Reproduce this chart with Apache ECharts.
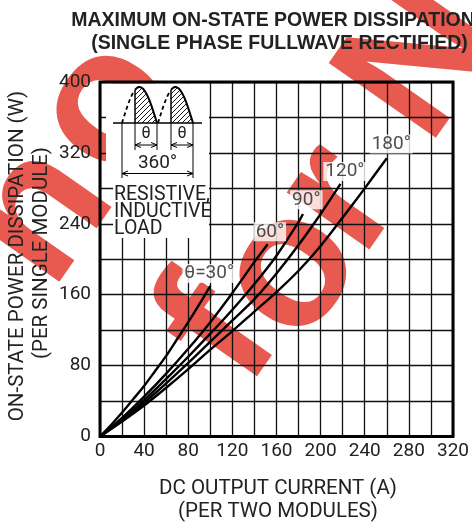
<!DOCTYPE html>
<html><head><meta charset="utf-8">
<script src="https://cdn.jsdelivr.net/npm/echarts@6/dist/echarts.min.js"></script>
<style>html,body{margin:0;padding:0;background:#fff}#c{width:472px;height:525px}</style>
</head><body><div id="c"></div>
<script>
// ---- data ----
const curveNames = ['θ=30°', '60°', '90°', '120°', '180°'];
const x30  = [0, 10, 20, 30, 40, 50, 60, 70, 80, 90, 100];
const y30  = [0, 13, 27, 42, 57, 74, 91, 110, 129, 149, 170];
const x60  = [0, 20, 40, 60, 80, 100, 120, 140, 152];
const y60  = [0, 21, 45, 71, 99, 129, 162, 197, 217];
const x90  = [0, 20, 40, 60, 80, 100, 120, 140, 160, 180, 184];
const y90  = [0, 19, 41, 65, 90, 116, 143, 172, 204, 242, 251];
const x120 = [0, 20, 40, 60, 80, 100, 120, 140, 160, 180, 200, 218];
const y120 = [0, 18, 38, 60, 83, 107, 131, 155, 184, 216, 251, 285];
const x180 = [0, 20, 40, 60, 80, 100, 120, 140, 160, 180, 200, 220, 240, 260];
const y180 = [0, 17, 35, 55, 76, 98, 119, 141, 163, 187, 215, 247, 280, 314];
const labelX = [99, 154, 187, 222, 264];
const labelY = [184, 231, 267, 299, 330];
const xTickLabels = [0, 40, 80, 120, 160, 200, 240, 280, 320];
const yTickLabels = [0, 80, 160, 240, 320, 400];

const xs = [x30, x60, x90, x120, x180];
const ys = [y30, y60, y90, y120, y180];

const chart = echarts.init(document.getElementById('c'), null, {renderer: 'canvas'});
const FONT = 'Roboto';
const TXT = '#222';

// hatch pattern
const pat = document.createElement('canvas');
pat.width = 5; pat.height = 5;
const pc = pat.getContext('2d');
pc.strokeStyle = '#000'; pc.lineWidth = 0.9;
pc.beginPath(); pc.moveTo(-1, 6); pc.lineTo(6, -1); pc.stroke();

function hump(x0, x1, a, b) {
  const p = [];
  for (let i = 0; i <= 24; i++) {
    const x = a + (b - a) * i / 24;
    p.push([x, 123 - 36 * Math.sin(Math.PI * (x - x0) / (x1 - x0))]);
  }
  return p;
}
function line(x1, y1, x2, y2, w) {
  return {type: 'line', z: 5, shape: {x1, y1, x2, y2}, style: {stroke: '#000', lineWidth: w || 1.2}};
}
function arrow(xa, xb, y) {
  return [
    line(xa, y, xb, y, 1),
    {type: 'polyline', z: 5, shape: {points: [[xa + 6, y - 2.5], [xa, y], [xa + 6, y + 2.5]]}, style: {stroke: '#000', lineWidth: 1, fill: null}},
    {type: 'polyline', z: 5, shape: {points: [[xb - 6, y - 2.5], [xb, y], [xb - 6, y + 2.5]]}, style: {stroke: '#000', lineWidth: 1, fill: null}}
  ];
}
function txt(text, x, y, size, opts) {
  return Object.assign({type: 'text', z: 6, x, y, style: {text, font: (size) + 'px ' + FONT, fill: TXT, textAlign: 'center', textVerticalAlign: 'middle'}}, opts || {});
}

const inset = [];
inset.push({type: 'rect', z: 1, shape: {x: 106, y: 83.5, width: 103, height: 97}, style: {fill: '#fff'}});
inset.push({type: 'rect', z: 1, shape: {x: 113, y: 180, width: 96, height: 58}, style: {fill: '#fff'}});
[[122, 157, 135], [158, 193, 171]].forEach(([a, b, f]) => {
  const solid = hump(a, b, f, b);
  inset.push({type: 'polygon', z: 4, shape: {points: [[f, 123]].concat(solid).concat([[b, 123]])}, style: {fill: {image: pat, repeat: 'repeat'}, stroke: null}});
  inset.push({type: 'polyline', z: 5, shape: {points: solid}, style: {stroke: '#000', lineWidth: 2, fill: null}});
  inset.push(line(f, 123, f, solid[0][1], 1.5));
  inset.push({type: 'polyline', z: 5, shape: {points: hump(a, b, a, f - 2)}, style: {stroke: '#000', lineWidth: 1.8, fill: null, lineDash: [4, 3]}});
});
inset.push(line(113, 123, 202, 123, 1.3));
inset.push(line(122, 123, 122, 178, 1));
inset.push(line(193, 123, 193, 178, 1));
[135, 157, 171].forEach(x => inset.push(line(x, 123, x, 150, 1)));
inset.push(...arrow(135, 157, 145), ...arrow(171, 193, 145), ...arrow(122, 193, 173.5));
inset.push(txt('θ', 146, 134, 16), txt('θ', 182, 134, 16), txt('360°', 157.5, 163.5, 19));
inset.push(txt('RESISTIVE,', 114, 195.5, 19.5), txt('INDUCTIVE', 114, 212.5, 19.5), txt('LOAD', 114, 229.5, 19.5));
inset.slice(-3).forEach(e => { e.style.textAlign = 'left'; });

// watermark letters (decoration behind the chart)
const WM = '#E85A4F';
const wmFont = 'bold 190px "Liberation Sans"';
const wmRot = 0.96;
const wmLetters = [
  ['n', 42, 215], ['o', 108, 108],
  ['f', 222, 335], ['o', 291, 272], ['r', 340, 200], ['N', 425, 62]
];
const watermark = wmLetters.map(([ch, x, y]) => ({
  type: 'text', z: -1, x, y, rotation: wmRot,
  style: {text: ch, font: wmFont, fill: WM, textAlign: 'center', textVerticalAlign: 'middle'}
}));

const titles = [
  {type: 'text', z: 6, x: 273, y: 21, style: {text: 'MAXIMUM ON-STATE POWER DISSIPATION', font: 'bold 19.5px "Liberation Sans"', fill: TXT, textAlign: 'center', textVerticalAlign: 'middle'}},
  {type: 'text', z: 6, x: 279.5, y: 44, style: {text: '(SINGLE PHASE FULLWAVE RECTIFIED)', font: 'bold 19.5px "Liberation Sans"', fill: TXT, textAlign: 'center', textVerticalAlign: 'middle'}},
  txt('DC OUTPUT CURRENT (A)', 278, 488.5, 20.5),
  txt('(PER TWO MODULES)', 278, 511.5, 20.5),
  txt('ON-STATE POWER DISSIPATION (W)', 18, 256, 20.5, {rotation: Math.PI / 2}),
  txt('(PER SINGLE MODULE)', 42, 253, 20.5, {rotation: Math.PI / 2})
];

const series = xs.map((xv, i) => ({
  type: 'line', name: curveNames[i], z: 3, smooth: 0.3, symbol: 'none',
  lineStyle: {color: '#000', width: 2.4},
  data: xv.map((x, j) => [x, ys[i][j]])
}));
series.push({
  type: 'scatter', z: 4, symbolSize: 1, itemStyle: {color: 'rgba(0,0,0,0)'},
  data: labelX.map((x, i) => [x, labelY[i], curveNames[i]]),
  label: {show: true, position: 'inside', formatter: p => p.data[2], fontFamily: FONT, fontSize: 19, color: TXT, backgroundColor: '#fff', padding: [0, 2]}
});

chart.setOption({
  animation: false,
  backgroundColor: '#fff',
  grid: {left: 100, top: 82, width: 356.5, height: 354.5, show: true, borderColor: '#000', borderWidth: 3, z: 2},
  xAxis: {
    type: 'value', min: 0, max: 320, interval: 20,
    axisLine: {show: false}, axisTick: {show: false},
    axisLabel: {margin: 5, fontFamily: FONT, fontSize: 19, color: TXT, formatter: v => xTickLabels.includes(v) ? String(v) : ''},
    splitLine: {show: true, lineStyle: {color: '#111', width: 1.3}}
  },
  yAxis: {
    type: 'value', min: 0, max: 400, interval: 40,
    axisLine: {show: false}, axisTick: {show: false},
    axisLabel: {margin: 9, fontFamily: FONT, fontSize: 19, color: TXT, formatter: v => yTickLabels.includes(v) ? String(v) : ''},
    splitLine: {show: true, lineStyle: {color: '#111', width: 1.3}}
  },
  graphic: {elements: watermark.concat(inset).concat(titles)},
  series
});
</script></body></html>
